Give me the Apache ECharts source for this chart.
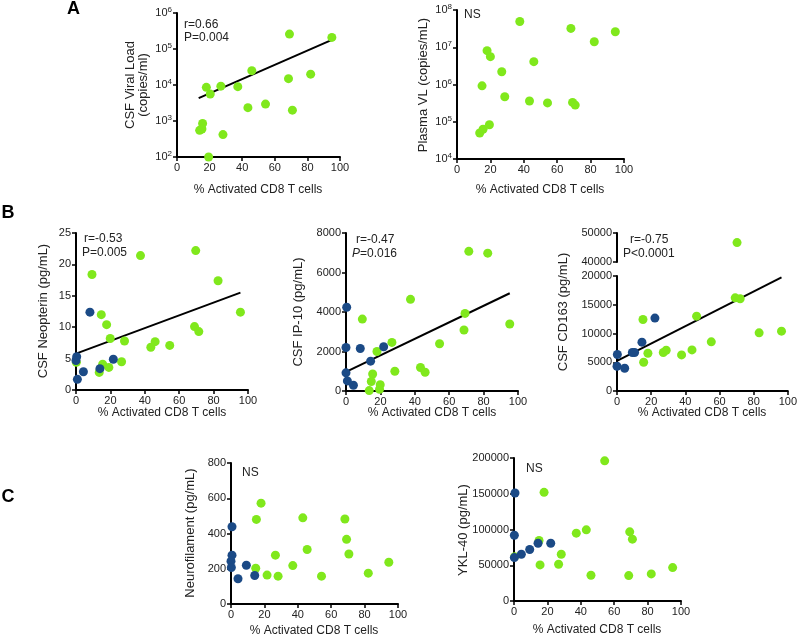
<!DOCTYPE html>
<html>
<head>
<meta charset="utf-8">
<script src="https://cdn.jsdelivr.net/npm/echarts@6/dist/echarts.min.js"></script>
<style>html,body{margin:0;padding:0;background:#fff;}#c{width:800px;height:638px;}</style>
</head>
<body>
<div id="c"></div>
<script>
// ---------- DATA ----------
const xTicks = [0, 20, 40, 60, 80, 100];

// A: CSF viral load (copies/ml)
const csfVLX = [69, 45.9, 68.4, 82, 18, 26.9, 37.3, 20.4, 43.5, 54.3, 70.8, 15.7, 13.9, 15.3, 28.2, 19.4, 95];
const csfVLY = [260000, 25000, 15000, 20000, 8600, 9300, 9000, 5600, 2350, 2950, 2000, 850, 550, 600, 420, 100, 210000];
const csfVLFit = [[13.3, 4300], [95, 180000]];

// A: Plasma VL (copies/mL)
const plasmaVLX = [37.6, 68.2, 94.8, 82.2, 18, 20, 46, 26.8, 15, 28.6, 43.4, 54.2, 69.2, 70.8, 13.6, 15.6, 19.4];
const plasmaVLY = [4.9e7, 3.2e7, 2.6e7, 1.4e7, 8.1e6, 5.6e6, 4.1e6, 2.2e6, 9.2e5, 4.7e5, 3.6e5, 3.2e5, 3.3e5, 2.8e5, 5.0e4, 6.3e4, 8.3e4];

// B: CSF Neopterin (pg/mL)
const neoGreenX = [69.6, 37.5, 9.3, 82.6, 95.6, 14.7, 17.8, 68.9, 71.4, 19.9, 28.2, 46, 43.5, 54.5, 26.5, 15.5, 19.1, 13.5, 0.2];
const neoGreenY = [22.2, 21.4, 18.4, 17.4, 12.4, 12.0, 10.4, 10.1, 9.3, 8.2, 7.8, 7.7, 6.8, 7.1, 4.5, 4.1, 3.6, 2.8, 4.4];
const neoBlueX = [8.1, 0.4, 0, 21.7, 13.9, 4.3, 0.8];
const neoBlueY = [12.4, 5.3, 4.7, 4.9, 3.4, 2.9, 1.7];
const neoFit = [[0, 5.8], [95.6, 15.5]];

// B: CSF IP-10 (pg/mL)
const ipGreenX = [71.4, 82.4, 37.5, 69.2, 9.5, 95.2, 68.6, 26.7, 54.4, 18, 43.3, 46, 28.4, 15.5, 14.7, 19.9, 19.5, 13.5];
const ipGreenY = [7070, 6980, 4640, 3930, 3640, 3390, 3090, 2460, 2390, 2000, 1190, 950, 1000, 860, 480, 320, 90, 20];
const ipBlueX = [0.4, 0, 8.3, 21.9, 14.3, 0, 0.8, 4.3];
const ipBlueY = [4240, 2200, 2150, 2240, 1510, 920, 510, 290];
const ipFit = [[0, 966], [95.2, 4950]];

// B: CSF CD163 (pg/mL)
const cdGreenX = [70.2, 69.2, 72.1, 15.2, 46.6, 83.2, 96.3, 55.2, 43.9, 37.8, 18.1, 27.1, 28.8, 15.6];
const cdGreenY = [46700, 16200, 16050, 12440, 13020, 10120, 10410, 8550, 7150, 6280, 6570, 6690, 7090, 5000];
const cdBlueX = [22.2, 14.6, 9, 10.3, 0.2, 0, 4.5];
const cdBlueY = [12680, 8490, 6690, 6690, 6340, 4300, 3950];
const cdFit = [[0, 5230], [96.3, 19770]];

// C: Neurofilament (pg/mL)
const nflGreenX = [18, 15.2, 43, 68.2, 69.2, 45.6, 70.6, 26.6, 37, 14.8, 21.6, 28.2, 54.2, 82.2, 94.5];
const nflGreenY = [572, 480, 489, 482, 367, 309, 284, 277, 218, 203, 164, 158, 158, 175, 237];
const nflBlueX = [0.6, 0.6, 0, 0.2, 9.2, 14.2, 4.2];
const nflBlueY = [438, 277, 243, 207, 220, 162, 143];

// C: YKL-40 (pg/mL)
const yklGreenX = [54.3, 18, 43.3, 37.3, 69.3, 70.9, 15, 28.3, 15.6, 26.7, 46.1, 68.7, 82.2, 95, 0.4];
const yklGreenY = [196000, 152000, 99500, 94900, 96700, 86500, 84600, 65400, 50500, 51400, 36000, 35500, 37900, 46700, 62000];
const yklBlueX = [0.6, 0.2, 0.2, 4.4, 9.4, 14.4, 22];
const yklBlueY = [151000, 92000, 60700, 65400, 72000, 80800, 80800];

// ---------- STYLE ----------
const GREEN = '#80e81c';
const BLUE = '#1b4a86';
const FONT = 'Liberation Sans, Arial, sans-serif';
const zip = (xs, ys) => xs.map((x, i) => [x, ys[i]]);

const grids = [
  {left: 177, top: 13, width: 163, height: 144},   // 0 A1
  {left: 457, top: 10, width: 167, height: 149},   // 1 A2
  {left: 76, top: 233, width: 172, height: 157},   // 2 B1
  {left: 346, top: 233, width: 172, height: 158},  // 3 B2
  {left: 617, top: 233, width: 171, height: 29},   // 4 B3 top
  {left: 617, top: 276, width: 171, height: 115},  // 5 B3 bottom
  {left: 231, top: 463, width: 167, height: 141},  // 6 C1
  {left: 514, top: 458, width: 167, height: 143}   // 7 C2
];

const axLine = {show: true, onZero: false, lineStyle: {color: '#000', width: 2}};
const axTick = {show: true, length: 4, lineStyle: {color: '#000', width: 1.5}};
const axLabel = {color: '#222', fontSize: 11, fontFamily: FONT, margin: 5, formatter: v => String(v)};

function xAx(i, show) {
  return {
    type: 'value', gridIndex: i, min: xTicks[0], max: xTicks[xTicks.length - 1], interval: 20,
    show: show !== false,
    axisLine: axLine, axisTick: axTick, axisLabel: axLabel, splitLine: {show: false}
  };
}
function yAx(i, min, max, interval) {
  return {
    type: 'value', gridIndex: i, min: min, max: max, interval: interval,
    axisLine: axLine, axisTick: axTick, axisLabel: axLabel, splitLine: {show: false}
  };
}
function logAx(i, min, max) {
  return {
    type: 'log', logBase: 10, gridIndex: i, min: min, max: max,
    axisLine: axLine, axisTick: axTick, splitLine: {show: false}, minorTick: {show: false},
    axisLabel: Object.assign({}, axLabel, {
      formatter: v => '10{s|' + Math.round(Math.log10(v)) + '}',
      rich: {s: {fontSize: 8, fontFamily: FONT, color: '#222', verticalAlign: 'top', padding: [0, 0, 6, 0]}}
    })
  };
}

function sc(xi, yi, data, color) {
  return {type: 'scatter', xAxisIndex: xi, yAxisIndex: yi, data: data, symbolSize: 9,
    itemStyle: {color: color, opacity: 1}, z: 3, silent: true};
}
function fit(xi, yi, data) {
  return {type: 'line', xAxisIndex: xi, yAxisIndex: yi, data: data, symbol: 'none',
    lineStyle: {color: '#000', width: 2}, z: 2, silent: true};
}

const cdGreen = zip(cdGreenX, cdGreenY);

const series = [
  fit(0, 0, csfVLFit),
  sc(0, 0, zip(csfVLX, csfVLY), GREEN),
  sc(1, 1, zip(plasmaVLX, plasmaVLY), GREEN),
  fit(2, 2, neoFit),
  sc(2, 2, zip(neoGreenX, neoGreenY), GREEN),
  sc(2, 2, zip(neoBlueX, neoBlueY), BLUE),
  fit(3, 3, ipFit),
  sc(3, 3, zip(ipGreenX, ipGreenY), GREEN),
  sc(3, 3, zip(ipBlueX, ipBlueY), BLUE),
  sc(4, 4, cdGreen.filter(p => p[1] > 20000), GREEN),
  fit(5, 5, cdFit),
  sc(5, 5, cdGreen.filter(p => p[1] <= 20000), GREEN),
  sc(5, 5, zip(cdBlueX, cdBlueY), BLUE),
  sc(6, 6, zip(nflGreenX, nflGreenY), GREEN),
  sc(6, 6, zip(nflBlueX, nflBlueY), BLUE),
  sc(7, 7, zip(yklGreenX, yklGreenY), GREEN),
  sc(7, 7, zip(yklBlueX, yklBlueY), BLUE)
];

function txt(text, x, y, opts) {
  return {type: 'text', x: x, y: y, rotation: (opts && opts.rot) || 0, silent: true,
    style: Object.assign({text: text, fill: '#222', fontSize: 12, fontFamily: FONT,
      align: 'left', verticalAlign: 'middle'}, (opts && opts.style) || {})};
}
const yTitle = (t, x, y) => txt(t, x, y, {rot: Math.PI / 2, style: {fontSize: 13, align: 'center'}});
const xTitle = (t, x, y) => txt(t, x, y, {style: {fontSize: 12, align: 'center'}});
const letter = (t, x, y) => txt(t, x, y, {style: {fontSize: 18, fontWeight: 'bold', fill: '#000', align: 'center'}});
const XT = '% Activated CD8 T cells';

const graphic = [
  letter('A', 73.5, 9), letter('B', 8, 213), letter('C', 8, 497),
  yTitle('CSF Viral Load', 130, 85), yTitle('(copies/ml)', 143, 85),
  yTitle('Plasma VL (copies/mL)', 423, 85),
  yTitle('CSF Neopterin (pg/mL)', 43, 311),
  yTitle('CSF IP-10 (pg/mL)', 298, 312),
  yTitle('CSF CD163 (pg/mL)', 563, 312),
  yTitle('Neurofilament (pg/mL)', 190, 533),
  yTitle('YKL-40 (pg/mL)', 463, 530),
  xTitle(XT, 258, 190), xTitle(XT, 540, 190),
  xTitle(XT, 162, 413), xTitle(XT, 432, 413), xTitle(XT, 702, 413),
  xTitle(XT, 314, 631), xTitle(XT, 597, 630),
  txt('r=0.66', 184, 25), txt('P=0.004', 184, 38),
  txt('NS', 464, 15),
  txt('r=-0.53', 84, 239), txt('P=0.005', 82, 253),
  txt('r=-0.47', 356, 240),
  {type: 'text', x: 352, y: 254, silent: true, style: {text: '{i|P}=0.016', fill: '#222', fontSize: 12, fontFamily: FONT, align: 'left', verticalAlign: 'middle', rich: {i: {fontStyle: 'italic', fontSize: 12, fontFamily: FONT, fill: '#222'}}}},
  txt('r=-0.75', 630, 240), txt('P<0.0001', 623, 254),
  txt('NS', 242, 473),
  txt('NS', 526, 469)
];

const chart = echarts.init(document.getElementById('c'), null, {renderer: 'canvas'});
chart.setOption({
  animation: false,
  backgroundColor: '#fff',
  grid: grids,
  xAxis: [xAx(0), xAx(1), xAx(2), xAx(3), xAx(4, false), xAx(5), xAx(6), xAx(7)],
  yAxis: [
    logAx(0, 1e2, 1e6),
    logAx(1, 1e4, 1e8),
    yAx(2, 0, 25, 5),
    yAx(3, 0, 8000, 2000),
    yAx(4, 40000, 50000, 10000),
    yAx(5, 0, 20000, 5000),
    yAx(6, 0, 800, 200),
    yAx(7, 0, 200000, 50000)
  ],
  series: series,
  graphic: graphic
});
</script>
</body>
</html>
